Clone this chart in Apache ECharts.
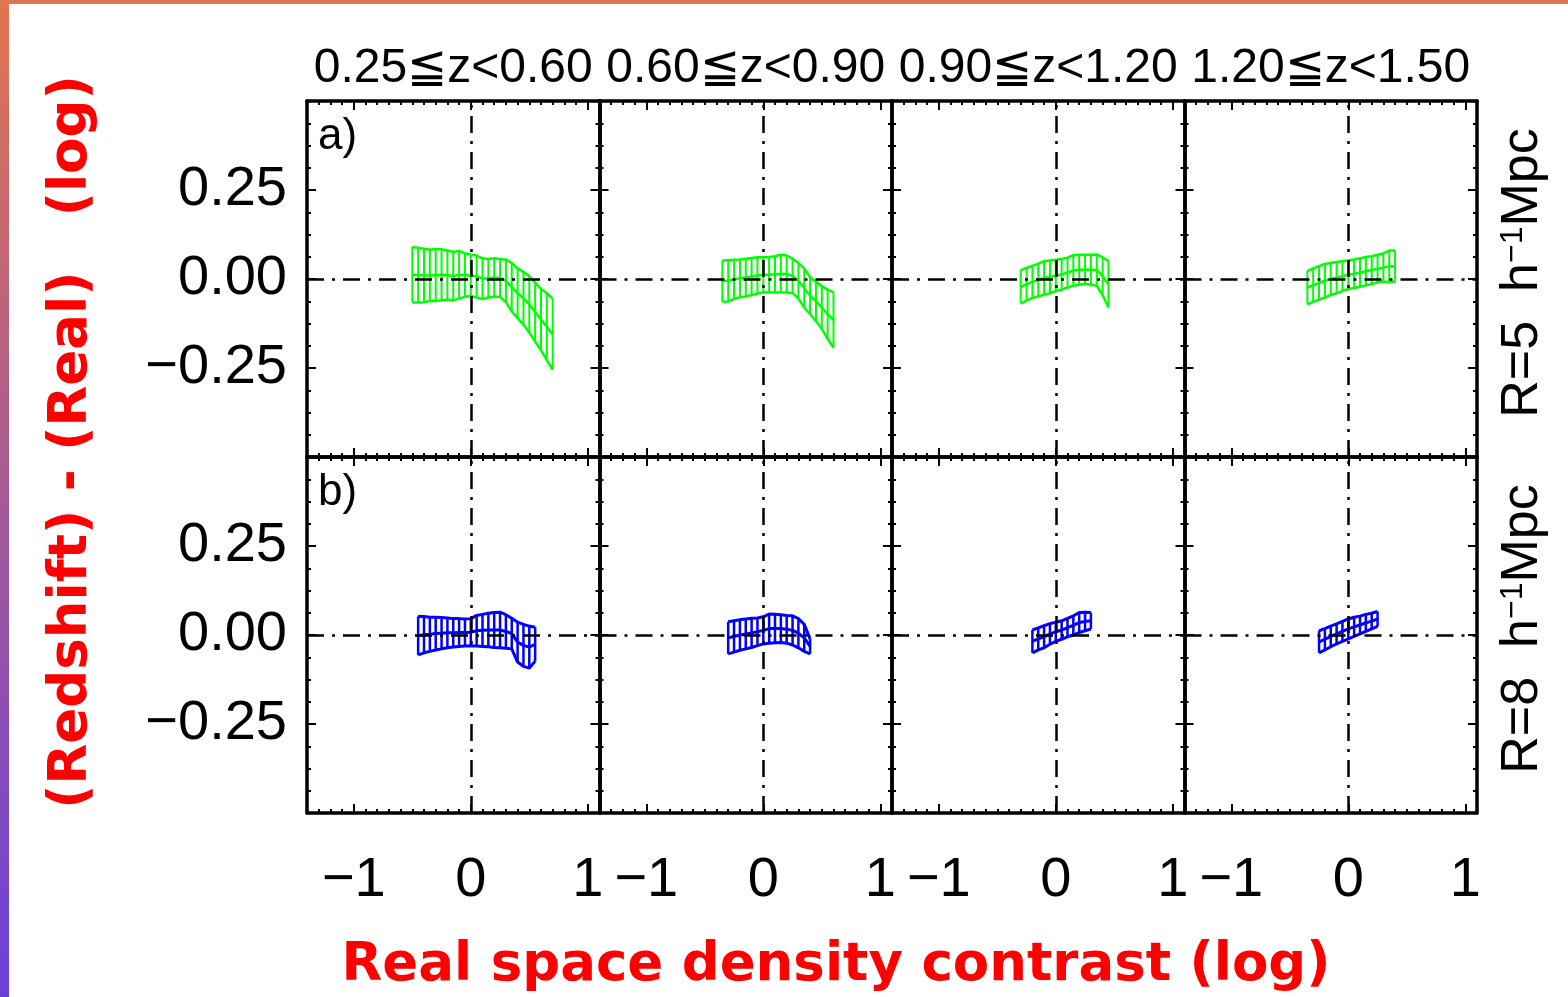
<!DOCTYPE html>
<html>
<head>
<meta charset="utf-8">
<script src="https://cdn.jsdelivr.net/npm/echarts@6/dist/echarts.min.js"></script>
<style>
  html, body { margin: 0; padding: 0; background: #fff; }
  #chart { width: 1568px; height: 997px; }
</style>
</head>
<body>
<div id="chart"></div>
<script>
// redshift bins (columns) and smoothing radii (rows)
const zBins = ['0.25≦z<0.60', '0.60≦z<0.90', '0.90≦z<1.20', '1.20≦z<1.50'];
const rowTags = ['a)', 'b)'];
const rowRadius = ['5', '8'];
const xTickValues = [-1, 0, 1];
const xTickLabels = ['\u22121', '0', '1'];
const yTickValues = [-0.25, 0, 0.25];
const yTickLabels = ['\u22120.25', '0.00', '0.25'];

// row a (R=5), one set per redshift bin: x = log real density, y = difference, e = error
const xA1 = [-0.50, -0.45, -0.40, -0.35, -0.30, -0.25, -0.20, -0.15, -0.10, -0.05, 0.00, 0.05, 0.10, 0.15, 0.20, 0.25, 0.30, 0.35, 0.40, 0.45, 0.50, 0.55, 0.60, 0.65, 0.70];
const yA1 = [0.012, 0.011, 0.010, 0.010, 0.011, 0.012, 0.011, 0.008, 0.012, 0.011, 0.010, 0.007, 0.001, 0.002, 0.004, 0.003, -0.005, -0.023, -0.040, -0.054, -0.071, -0.093, -0.114, -0.134, -0.155];
const eA1 = [0.078, 0.077, 0.075, 0.072, 0.073, 0.072, 0.069, 0.068, 0.067, 0.061, 0.058, 0.059, 0.057, 0.054, 0.054, 0.053, 0.060, 0.068, 0.070, 0.074, 0.079, 0.083, 0.086, 0.094, 0.100];

const xA2 = [-0.35, -0.30, -0.25, -0.20, -0.15, -0.10, -0.05, 0.00, 0.05, 0.10, 0.15, 0.20, 0.25, 0.30, 0.35, 0.40, 0.45, 0.50, 0.55, 0.60];
const yA2 = [-0.006, -0.005, -0.001, 0.002, 0.004, 0.007, 0.010, 0.012, 0.012, 0.013, 0.015, 0.014, 0.009, -0.005, -0.025, -0.047, -0.063, -0.080, -0.099, -0.115];
const eA2 = [0.058, 0.058, 0.055, 0.053, 0.053, 0.052, 0.051, 0.049, 0.050, 0.051, 0.053, 0.052, 0.048, 0.050, 0.055, 0.052, 0.055, 0.060, 0.069, 0.078];

const xA3 = [-0.30, -0.25, -0.20, -0.15, -0.10, -0.05, 0.00, 0.05, 0.10, 0.15, 0.20, 0.25, 0.30, 0.35, 0.40, 0.45];
const yA3 = [-0.022, -0.015, -0.008, -0.003, 0.003, 0.006, 0.010, 0.013, 0.018, 0.024, 0.026, 0.027, 0.026, 0.025, 0.008, -0.015];
const eA3 = [0.047, 0.046, 0.045, 0.046, 0.047, 0.046, 0.044, 0.043, 0.042, 0.043, 0.042, 0.041, 0.042, 0.044, 0.053, 0.065];

const xA4 = [-0.35, -0.30, -0.25, -0.20, -0.15, -0.10, -0.05, 0.00, 0.05, 0.10, 0.15, 0.20, 0.25, 0.30, 0.35, 0.40];
const yA4 = [-0.024, -0.017, -0.011, -0.005, 0.000, 0.004, 0.008, 0.012, 0.015, 0.018, 0.022, 0.025, 0.029, 0.032, 0.036, 0.036];
const eA4 = [0.047, 0.047, 0.047, 0.047, 0.045, 0.044, 0.042, 0.040, 0.040, 0.040, 0.040, 0.039, 0.039, 0.040, 0.044, 0.044];

// row b (R=8)
const xB1 = [-0.45, -0.40, -0.35, -0.30, -0.25, -0.20, -0.15, -0.10, -0.05, 0.00, 0.05, 0.10, 0.15, 0.20, 0.25, 0.30, 0.35, 0.40, 0.45, 0.50, 0.55];
const yB1 = [-0.002, 0.001, 0.002, 0.004, 0.005, 0.006, 0.006, 0.007, 0.007, 0.008, 0.012, 0.013, 0.014, 0.014, 0.014, 0.010, 0.004, -0.020, -0.029, -0.034, -0.026];
const eB1 = [0.054, 0.051, 0.048, 0.046, 0.044, 0.042, 0.040, 0.039, 0.038, 0.038, 0.043, 0.045, 0.047, 0.049, 0.050, 0.047, 0.043, 0.056, 0.059, 0.059, 0.048];

const xB2 = [-0.30, -0.25, -0.20, -0.15, -0.10, -0.05, 0.00, 0.05, 0.10, 0.15, 0.20, 0.25, 0.30, 0.35, 0.40];
const yB2 = [-0.008, -0.004, 0.000, 0.003, 0.006, 0.009, 0.013, 0.018, 0.018, 0.018, 0.016, 0.013, 0.005, -0.008, -0.032];
const eB2 = [0.045, 0.044, 0.043, 0.042, 0.041, 0.039, 0.038, 0.041, 0.040, 0.039, 0.039, 0.041, 0.041, 0.038, 0.021];

const xB3 = [-0.20, -0.15, -0.10, -0.05, 0.00, 0.05, 0.10, 0.15, 0.20, 0.25, 0.30];
const yB3 = [-0.018, -0.011, -0.005, 0.003, 0.009, 0.014, 0.021, 0.027, 0.035, 0.038, 0.040];
const eB3 = [0.032, 0.031, 0.031, 0.029, 0.027, 0.026, 0.026, 0.027, 0.028, 0.026, 0.023];

const xB4 = [-0.25, -0.20, -0.15, -0.10, -0.05, 0.00, 0.05, 0.10, 0.15, 0.20, 0.25];
const yB4 = [-0.019, -0.012, -0.004, 0.003, 0.010, 0.017, 0.023, 0.028, 0.034, 0.039, 0.045];
const eB4 = [0.031, 0.030, 0.029, 0.028, 0.028, 0.028, 0.027, 0.025, 0.024, 0.022, 0.021];

const panels = [
  { x: xA1, y: yA1, e: eA1 }, { x: xA2, y: yA2, e: eA2 }, { x: xA3, y: yA3, e: eA3 }, { x: xA4, y: yA4, e: eA4 },
  { x: xB1, y: yB1, e: eB1 }, { x: xB2, y: yB2, e: eB2 }, { x: xB3, y: yB3, e: eB3 }, { x: xB4, y: yB4, e: eB4 }
];
const rowColor = ['#00ff00', '#0000ff'];

// layout
const colLeft = [307, 599.5, 892, 1184.5];
const panelW = 292.5;
const rowTop = [101, 457];
const panelH = 356;
const FONT = '"Liberation Sans", Arial, sans-serif';

const chart = echarts.init(document.getElementById('chart'));

const grids = [], xAxes = [], yAxes = [], series = [];
const frameLine = { show: true, onZero: false, lineStyle: { color: '#000', width: 3.5 } };

panels.forEach((p, i) => {
  const row = Math.floor(i / 4), col = i % 4;
  grids.push({ left: colLeft[col], top: rowTop[row], width: panelW, height: panelH, containLabel: false, outerBoundsMode: 'none' });

  const xBase = { gridIndex: i, type: 'value', min: -1.4, max: 1.1, splitLine: { show: false } };
  const majorX = (pos, labels) => Object.assign({}, xBase, {
    position: pos,
    axisLine: frameLine,
    axisTick: { show: true, inside: true, length: 9, customValues: xTickValues, lineStyle: { color: '#000', width: 2 } },
    axisLabel: {
      show: labels, customValues: xTickValues, margin: 40, color: '#000', fontSize: 56, fontFamily: FONT,
      formatter: v => xTickLabels[xTickValues.indexOf(v)]
    }
  });
  const minorX = pos => Object.assign({}, xBase, {
    position: pos, interval: 0.1,
    axisLine: { show: false, onZero: false },
    axisTick: { show: true, inside: true, length: 4, lineStyle: { color: '#000', width: 2 } },
    axisLabel: { show: false }
  });
  xAxes.push(majorX('bottom', row === 1), minorX('bottom'), majorX('top', false), minorX('top'));

  const yAxis = (pos, labels) => ({
    gridIndex: i, type: 'value', min: -0.5, max: 0.5, interval: 0.25, position: pos,
    axisLine: frameLine,
    axisTick: { show: true, inside: true, length: 9, lineStyle: { color: '#000', width: 2 } },
    minorTick: { show: true, splitNumber: 4, length: 4, lineStyle: { color: '#000', width: 2 } },
    splitLine: { show: false },
    axisLabel: {
      show: labels, margin: 20, color: '#000', fontSize: 56, fontFamily: FONT, padding: [16, 0, 0, 0],
      formatter: v => { const k = yTickValues.findIndex(t => Math.abs(t - v) < 1e-9); return k < 0 ? '' : yTickLabels[k]; }
    }
  });
  yAxes.push(yAxis('left', col === 0), yAxis('right', false));

  const color = rowColor[row];
  const lw = row === 0 ? 2.5 : 3;
  const common = { xAxisIndex: i * 4, yAxisIndex: i * 2, silent: true, animation: false };
  const line = data => Object.assign({}, common, {
    type: 'line', data, symbol: 'none', z: 2, lineStyle: { color, width: lw }
  });
  series.push(line(p.x.map((x, k) => [x, p.y[k]])));
  series.push(line(p.x.map((x, k) => [x, p.y[k] + p.e[k]])));
  series.push(line(p.x.map((x, k) => [x, p.y[k] - p.e[k]])));
  series.push(Object.assign({}, common, {
    type: 'custom', z: 3,
    data: p.x.map((x, k) => [x, p.y[k], p.e[k]]),
    encode: { x: 0, y: 1 },
    renderItem: (params, api) => {
      const x = api.value(0), y = api.value(1), e = api.value(2);
      const a = api.coord([x, y + e]), b = api.coord([x, y - e]);
      return { type: 'line', shape: { x1: a[0], y1: a[1], x2: b[0], y2: b[1] }, style: { stroke: color, lineWidth: lw - 0.5 } };
    },
    markLine: {
      silent: true, symbol: ['none', 'none'], label: { show: false }, animation: false,
      lineStyle: { color: '#000', width: 2.5, type: [17, 8, 3, 8] },
      data: [{ xAxis: 0 }, { yAxis: 0 }]
    }
  }));
});

const graphics = [
  { type: 'rect', left: 0, top: 0, shape: { width: 9, height: 997 }, silent: true,
    style: { fill: new echarts.graphic.LinearGradient(0, 0, 0, 1, [{ offset: 0, color: '#e27450' }, { offset: 1, color: '#6a40dc' }]) } },
  { type: 'rect', left: 0, top: 0, shape: { width: 1568, height: 4 }, silent: true, style: { fill: '#e07352' } },
  { type: 'text', x: 836, y: 966, silent: true,
    style: { text: 'Real space density contrast (log)', fill: '#ff0000', font: 'bold 53px "DejaVu Sans"', textAlign: 'center', textVerticalAlign: 'middle' } },
  { type: 'text', x: 72, y: 442, rotation: Math.PI / 2, silent: true,
    style: { text: '(Redshift) - (Real)   (log)', fill: '#ff0000', font: 'bold 53px "DejaVu Sans"', textAlign: 'center', textVerticalAlign: 'middle' } }
];

zBins.forEach((t, c) => {
  graphics.push({ type: 'text', x: colLeft[c] + panelW / 2, y: 69, silent: true,
    style: { text: t, fill: '#000', font: '48px ' + FONT, textAlign: 'center', textVerticalAlign: 'middle' } });
});

rowTags.forEach((t, r) => {
  graphics.push({ type: 'text', x: 318, y: rowTop[r] + 36, silent: true,
    style: { text: t, fill: '#000', font: '44px ' + FONT, textAlign: 'left', textVerticalAlign: 'middle' } });
  graphics.push({ type: 'text', x: 1523, y: rowTop[r] + panelH / 2 - 6, rotation: Math.PI / 2, silent: true,
    style: {
      text: 'R=' + rowRadius[r] + '  h{sup|\u22121}Mpc', fill: '#000', font: '52px ' + FONT,
      textAlign: 'center', textVerticalAlign: 'middle',
      rich: { sup: { fontSize: 32, fontFamily: FONT, verticalAlign: 'top', fill: '#000' } }
    } });
});

chart.setOption({
  backgroundColor: '#fff',
  animation: false,
  textStyle: { fontFamily: FONT },
  grid: grids,
  xAxis: xAxes,
  yAxis: yAxes,
  series,
  graphic: graphics
});
</script>
</body>
</html>
